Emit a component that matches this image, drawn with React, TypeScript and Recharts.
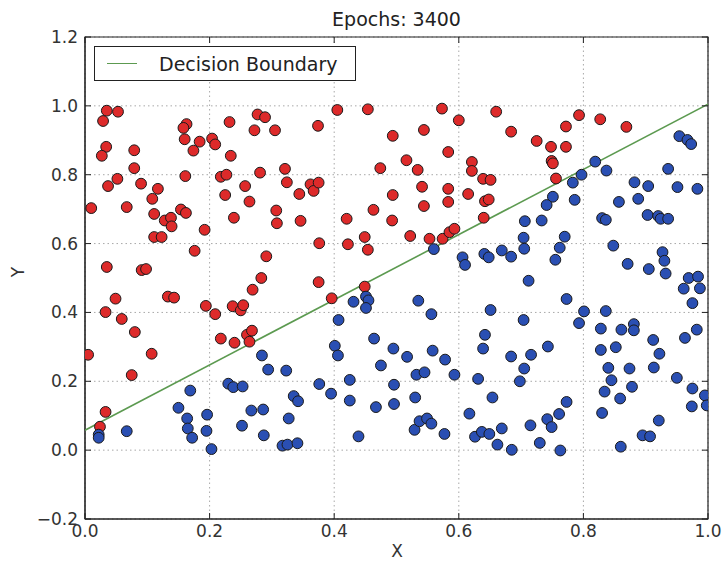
import React from 'react';
import {
  ScatterChart, Scatter, XAxis, YAxis, CartesianGrid, ReferenceArea, Legend,
} from 'recharts';

const X_TICKS = [0, 0.2, 0.4, 0.6, 0.8, 1.0];
const Y_TICKS = [-0.2, 0, 0.2, 0.4, 0.6, 0.8, 1.0, 1.2];

const RED_POINTS: [number, number][] = [
  [0.035,0.986],[0.053,0.983],[0.029,0.956],[0.163,0.947],[0.158,0.936],[0.160,0.903],[0.184,0.896],[0.174,0.870],
  [0.204,0.905],[0.209,0.888],[0.232,0.953],[0.277,0.975],[0.289,0.967],[0.272,0.929],[0.305,0.929],[0.034,0.881],
  [0.027,0.855],[0.079,0.871],[0.079,0.819],[0.234,0.855],[0.161,0.796],[0.052,0.788],[0.037,0.767],[0.090,0.774],
  [0.117,0.759],[0.108,0.730],[0.218,0.794],[0.227,0.800],[0.281,0.806],[0.257,0.767],[0.321,0.817],[0.324,0.778],
  [0.225,0.741],[0.264,0.722],[0.010,0.703],[0.067,0.706],[0.111,0.686],[0.128,0.667],[0.138,0.675],[0.139,0.650],
  [0.154,0.699],[0.162,0.689],[0.111,0.619],[0.123,0.619],[0.192,0.640],[0.239,0.675],[0.307,0.696],[0.308,0.659],
  [0.176,0.579],[0.291,0.563],[0.035,0.532],[0.091,0.523],[0.098,0.526],[0.283,0.500],
  [0.374,0.942],[0.405,0.988],[0.454,0.990],[0.494,0.913],[0.344,0.744],[0.346,0.666],[0.362,0.772],[0.367,0.753],
  [0.375,0.777],[0.376,0.601],[0.375,0.488],[0.269,0.466],[0.420,0.672],[0.422,0.598],[0.449,0.619],[0.454,0.582],
  [0.449,0.475],[0.474,0.819],[0.463,0.698],[0.494,0.741],[0.493,0.667],
  [0.573,0.992],[0.660,0.983],[0.600,0.958],[0.544,0.930],[0.583,0.866],[0.516,0.842],[0.534,0.814],[0.621,0.837],
  [0.621,0.811],[0.639,0.788],[0.651,0.785],[0.541,0.765],[0.583,0.759],[0.583,0.721],[0.615,0.744],[0.642,0.723],
  [0.648,0.728],[0.544,0.709],[0.640,0.675],[0.522,0.622],[0.553,0.614],[0.574,0.614],[0.585,0.633],[0.593,0.643],
  [0.793,0.973],[0.827,0.961],[0.869,0.939],[0.772,0.940],[0.684,0.925],[0.725,0.898],[0.748,0.881],[0.772,0.881],
  [0.749,0.840],[0.751,0.833],[0.756,0.789],
  [0.005,0.277],[0.033,0.401],[0.049,0.440],[0.059,0.381],[0.080,0.343],[0.075,0.218],[0.107,0.280],[0.133,0.446],
  [0.143,0.443],[0.194,0.419],[0.209,0.395],[0.218,0.324],[0.237,0.418],[0.250,0.406],[0.254,0.421],[0.240,0.312],
  [0.260,0.335],[0.268,0.347],[0.264,0.315],[0.396,0.441],[0.024,0.068],[0.033,0.111],
];

const BLUE_POINTS: [number, number][] = [
  [0.560,0.584],[0.606,0.560],[0.610,0.538],[0.641,0.570],[0.648,0.560],
  [0.954,0.912],[0.967,0.901],[0.973,0.889],[0.819,0.838],[0.837,0.812],[0.936,0.817],[0.797,0.800],[0.783,0.777],
  [0.882,0.778],[0.904,0.767],[0.951,0.764],[0.983,0.759],[0.751,0.736],[0.741,0.712],[0.786,0.727],[0.857,0.721],
  [0.888,0.730],[0.706,0.665],[0.733,0.667],[0.830,0.674],[0.836,0.669],[0.903,0.683],[0.920,0.680],[0.924,0.672],
  [0.936,0.672],[0.704,0.617],[0.770,0.620],[0.669,0.580],[0.684,0.562],[0.705,0.585],[0.762,0.588],[0.755,0.553],
  [0.848,0.594],[0.927,0.575],[0.930,0.550],[0.932,0.513],[0.871,0.541],[0.905,0.526],[0.712,0.492],[0.969,0.500],
  [0.984,0.504],[0.961,0.469],[0.987,0.470],
  [0.022,0.045],[0.022,0.036],[0.067,0.055],[0.150,0.123],[0.169,0.173],[0.164,0.092],[0.165,0.063],[0.172,0.036],
  [0.196,0.103],[0.195,0.056],[0.203,0.003],[0.230,0.193],[0.238,0.183],[0.253,0.185],[0.252,0.071],[0.267,0.115],
  [0.286,0.118],[0.287,0.043],[0.284,0.275],[0.294,0.234],[0.323,0.231],[0.327,0.092],[0.335,0.157],[0.342,0.142],
  [0.317,0.013],[0.325,0.016],[0.341,0.020],[0.376,0.192],[0.395,0.164],[0.401,0.303],[0.406,0.275],[0.407,0.378],
  [0.431,0.431],[0.425,0.204],[0.425,0.144],[0.439,0.040],[0.451,0.446],[0.455,0.435],[0.451,0.413],[0.464,0.324],
  [0.475,0.246],[0.467,0.125],[0.495,0.295],[0.496,0.190],[0.496,0.134],
  [0.535,0.434],[0.556,0.395],[0.517,0.271],[0.532,0.219],[0.545,0.226],[0.558,0.289],[0.578,0.263],[0.593,0.219],
  [0.530,0.153],[0.529,0.059],[0.537,0.084],[0.549,0.092],[0.556,0.077],[0.577,0.047],[0.651,0.407],[0.642,0.335],
  [0.639,0.295],[0.631,0.207],[0.654,0.153],[0.617,0.106],[0.626,0.039],[0.637,0.053],[0.649,0.047],[0.669,0.063],
  [0.662,0.016],[0.685,0.001],[0.704,0.378],[0.684,0.272],[0.716,0.277],[0.705,0.237],[0.698,0.200],[0.743,0.301],
  [0.773,0.439],[0.715,0.072],[0.730,0.021],[0.742,0.090],[0.749,0.067],[0.761,0.105],[0.773,0.140],[0.763,-0.001],
  [0.801,0.403],[0.793,0.369],[0.836,0.404],[0.828,0.353],[0.861,0.350],[0.881,0.366],[0.881,0.348],[0.828,0.291],
  [0.852,0.299],[0.840,0.239],[0.845,0.203],[0.834,0.170],[0.859,0.150],[0.874,0.237],[0.878,0.184],[0.830,0.108],
  [0.860,0.010],[0.912,0.320],[0.922,0.280],[0.913,0.240],[0.921,0.086],[0.895,0.043],[0.907,0.040],[0.950,0.210],
  [0.963,0.326],[0.982,0.350],[0.975,0.427],[0.975,0.179],[0.974,0.127],[0.995,0.159],[0.998,0.130],
];

const BOUNDARY: [number, number][] = [[0, 0.058], [1, 1.005]];

const toObj = (arr: [number, number][]) => arr.map(([x, y]) => ({ x, y }));
const redData = toObj(RED_POINTS);
const blueData = toObj(BLUE_POINTS);
const boundaryData = toObj(BOUNDARY);

const W = 723, H = 565;
const TOP = 37, RIGHT = 708;
const FONT = '"DejaVu Sans", sans-serif';
const RED = '#dd2a2a';
const BLUE = '#2a4fb3';
const GREEN = '#5c9a50';

const fmt = (v: number) => (v < 0 ? '\u2212' : '') + Math.abs(v).toFixed(1);

const XTick = (p: any) => {
  const { x, y, payload } = p;
  return (
    <g>
      <line x1={x} x2={x} y1={y} y2={y - 6} stroke="#222" strokeWidth={1} />
      <line x1={x} x2={x} y1={TOP} y2={TOP + 6} stroke="#222" strokeWidth={1} />
      <text x={x} y={y + 18} textAnchor="middle" fontSize={17} fill="#333" fontFamily={FONT}>
        {fmt(payload.value)}
      </text>
    </g>
  );
};

const YTick = (p: any) => {
  const { x, y, payload } = p;
  return (
    <g>
      <line x1={x} x2={x + 6} y1={y} y2={y} stroke="#222" strokeWidth={1} />
      <line x1={RIGHT - 6} x2={RIGHT} y1={y} y2={y} stroke="#222" strokeWidth={1} />
      <text x={x - 7} y={y + 6} textAnchor="end" fontSize={17} fill="#333" fontFamily={FONT}>
        {fmt(payload.value)}
      </text>
    </g>
  );
};

const dot = (fill: string) => (p: any) => (
  <circle cx={p.cx} cy={p.cy} r={5.4} fill={fill} stroke="#1a1a1a" strokeWidth={1} />
);

const LegendBox = () => (
  <div
    style={{
      width: 260, height: 33, border: '1px solid #222', background: '#fff',
      display: 'flex', alignItems: 'center', boxSizing: 'content-box',
    }}
  >
    <div style={{ width: 30, height: 0, borderTop: `1.5px solid ${GREEN}`, marginLeft: 12 }} />
    <span style={{ marginLeft: 22, fontSize: 19, fontFamily: FONT, color: '#222' }}>Decision Boundary</span>
  </div>
);

export default function App() {
  return (
    <div style={{ position: 'absolute', left: 0, top: 0, width: W, height: H, background: '#fff' }}>
      <div
        style={{
          position: 'absolute', left: 85, top: 8, width: 623, textAlign: 'center',
          fontSize: 19, lineHeight: '22px', fontFamily: FONT, color: '#222',
        }}
      >
        Epochs: 3400
      </div>
      <div
        style={{
          position: 'absolute', left: 385, top: 540, width: 24, textAlign: 'center',
          fontSize: 17, lineHeight: '22px', fontFamily: FONT, color: '#333',
        }}
      >
        X
      </div>
      <div
        style={{
          position: 'absolute', left: 6, top: 261, width: 24, textAlign: 'center',
          fontSize: 17, lineHeight: '22px', fontFamily: FONT, color: '#333',
          transform: 'rotate(-90deg)',
        }}
      >
        Y
      </div>
      <ScatterChart width={W} height={H} margin={{ top: TOP, right: W - RIGHT, bottom: 16, left: 25 }}>
        <CartesianGrid stroke="#a8a8a8" strokeDasharray="1.5 3" />
        <XAxis
          type="number" dataKey="x" domain={[0, 1]} ticks={X_TICKS} interval={0}
          height={30} tickSize={0} tickMargin={0} tick={<XTick />}
          axisLine={{ stroke: '#222' }} tickLine={false} allowDataOverflow
        />
        <YAxis
          type="number" dataKey="y" domain={[-0.2, 1.2]} ticks={Y_TICKS} interval={0}
          width={60} tickSize={0} tickMargin={0} tick={<YTick />}
          axisLine={{ stroke: '#222' }} tickLine={false} allowDataOverflow
        />
        <ReferenceArea x1={0} x2={1} y1={-0.2} y2={1.2} fill="none" stroke="#222" strokeWidth={1.2} fillOpacity={0} />
        <Scatter
          name="Decision Boundary" data={boundaryData}
          line={{ stroke: GREEN, strokeWidth: 1.6 }} shape={() => null}
          isAnimationActive={false} legendType="line"
        />
        <Scatter name="red" data={redData} shape={dot(RED)} isAnimationActive={false} legendType="none" />
        <Scatter name="blue" data={blueData} shape={dot(BLUE)} isAnimationActive={false} legendType="none" />
        <Legend
          layout="horizontal" verticalAlign="middle" align="center"
          wrapperStyle={{ top: 46, left: 94, width: 'auto' }}
          content={() => <LegendBox />}
        />
      </ScatterChart>
    </div>
  );
}
